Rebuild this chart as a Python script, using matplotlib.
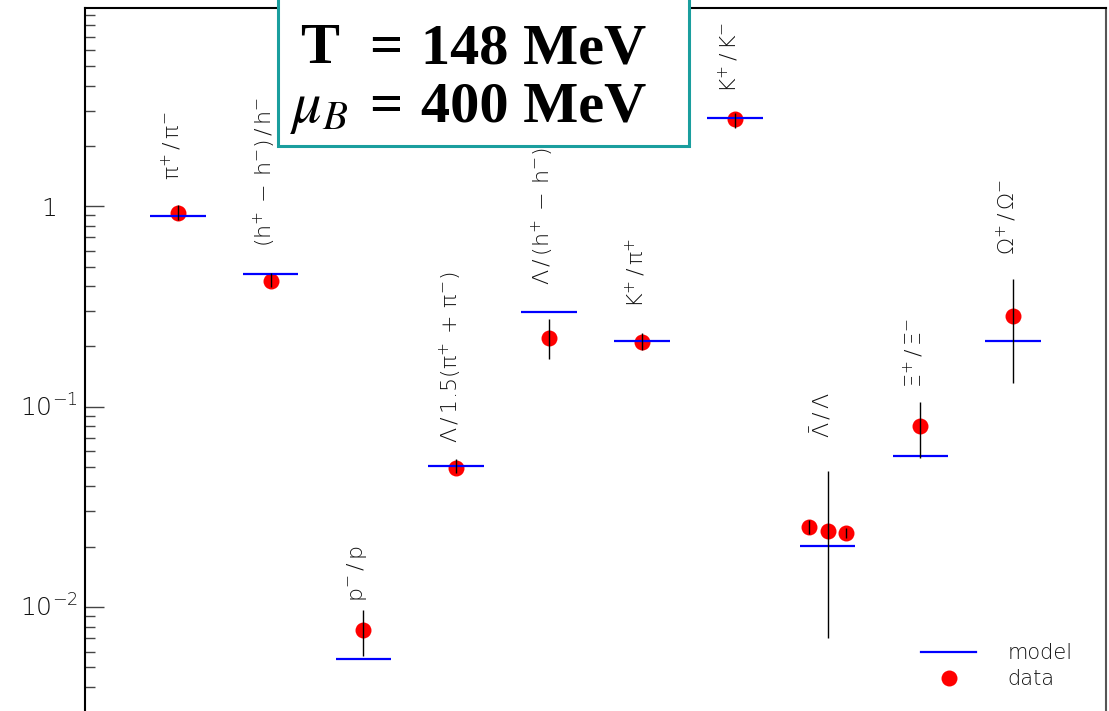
import matplotlib
matplotlib.use('Agg')
import matplotlib.pyplot as plt
from matplotlib.patches import Rectangle
from matplotlib.lines import Line2D
from matplotlib.ticker import LogLocator, NullFormatter, FixedLocator

plt.rcParams['font.family'] = ['DejaVu Sans']
plt.rcParams['font.weight'] = 'light'
plt.rcParams['mathtext.fontset'] = 'custom'
plt.rcParams['mathtext.rm'] = 'DejaVu Sans:light'
plt.rcParams['mathtext.it'] = 'DejaVu Sans:light'
plt.rcParams['mathtext.bf'] = 'DejaVu Sans:light'
plt.rcParams['mathtext.sf'] = 'DejaVu Sans:light'

# ---- data ----
ratio_labels = [r'$\mathrm{\pi}^{+}\,/\,\mathrm{\pi}^{-}$',
                r'$(\mathrm{h}^{+}\,-\,\mathrm{h}^{-})\,/\,\mathrm{h}^{-}$',
                r'$\mathrm{p}^{-}\,/\,\mathrm{p}$',
                r'$\Lambda\,/\,1.5(\mathrm{\pi}^{+}\,+\,\mathrm{\pi}^{-})$',
                r'$\Lambda\,/\,(\mathrm{h}^{+}\,-\,\mathrm{h}^{-})$',
                r'$\mathrm{K}^{+}\,/\,\mathrm{\pi}^{+}$',
                r'$\mathrm{K}^{+}\,/\,\mathrm{K}^{-}$',
                r'$\bar{\Lambda}\,/\,\Lambda$',
                r'$\Xi^{+}\,/\,\Xi^{-}$',
                r'$\Omega^{+}\,/\,\Omega^{-}$']
category_x = [1, 2, 3, 4, 5, 6, 7, 8, 9, 10]
model_values = [0.898, 0.459, 0.00549, 0.0508, 0.298, 0.213, 2.76, 0.0202, 0.0569, 0.213]
data_values = [0.926, 0.426, 0.00769, 0.0493, 0.221, 0.211, 2.72, 0.0241, 0.0804, 0.284]
data_err_hi = [1.01, 0.463, 0.00967, 0.0548, 0.273, 0.233, 2.93, 0.048, 0.105, 0.434]
data_err_lo = [0.85, 0.394, 0.0057, 0.0467, 0.172, 0.192, 2.47, 0.00699, 0.0553, 0.132]
# additional Lambda-bar/Lambda measurements
extra_x = [7.8, 8.2]
extra_values = [0.0252, 0.0234]
extra_err_hi = [0.0272, 0.0247]
extra_err_lo = [0.0231, 0.0220]
# label anchor heights (data units)
label_y = [1.35, 0.626, 0.0106, 0.0659, 0.405, 0.311, 3.68, 0.0698, 0.124, 0.571]

ytick_vals = [0.01, 0.1, 1]
ytick_labels = [r'$10^{-2}$', r'$10^{-1}$', '1']

# ---- figure ----
W, H = 1109, 711
fig = plt.figure(figsize=(W / 100, H / 100), dpi=100)
ax = fig.add_axes([85 / W, 1 - 725 / H, (1106 - 85) / W, (725 - 8) / H])
ax.set_yscale('log')
ax.set_xlim(0, 11)
ax.set_ylim(0.00258, 9.76)

half = 0.3
ax.hlines(model_values, [x - half for x in category_x], [x + half for x in category_x],
          colors='#0000ff', linewidth=1.6, zorder=3)
ax.plot(category_x, data_values, 'o', color='#ff0000', ms=11.5, mec='none', zorder=2)
ax.plot(extra_x, extra_values, 'o', color='#ff0000', ms=11.5, mec='none', zorder=2)
ax.vlines(category_x, data_err_lo, data_err_hi, colors='black', linewidth=1.0, zorder=4)
ax.vlines(extra_x, extra_err_lo, extra_err_hi, colors='black', linewidth=1.0, zorder=4)

for x, y, lab in zip(category_x, label_y, ratio_labels):
    ax.text(x - 0.07, y, lab, rotation=90, ha='center', va='bottom', fontsize=16,
            color='#111111')

ax.yaxis.set_major_locator(FixedLocator(ytick_vals))
ax.yaxis.set_minor_locator(LogLocator(base=10, subs=range(2, 10), numticks=20))
ax.yaxis.set_minor_formatter(NullFormatter())
ax.tick_params(axis='y', which='major', direction='in', length=14, width=1.0,
               color='#444444', labelleft=False)
ax.tick_params(axis='y', which='minor', direction='in', length=7.3, width=1.0,
               color='#444444')
ax.tick_params(axis='x', which='both', bottom=False, top=False, labelbottom=False)
# tick labels centred left of the axis
for v, lab in zip(ytick_vals, ytick_labels):
    ax.annotate(lab, xy=(0, v), xycoords=('axes fraction', 'data'),
                xytext=(-36 * 0.72, -10 * 0.72), textcoords='offset points',
                ha='center', va='baseline', fontsize=18, color='#111111',
                annotation_clip=False)
for s in ['left', 'top', 'right']:
    ax.spines[s].set_linewidth(1.5)
ax.spines['right'].set_color('#555555')
ax.spines['bottom'].set_visible(False)

# legend
handles = [Line2D([], [], color='#0000ff', lw=1.6),
           Line2D([], [], marker='o', ls='none', color='#ff0000', ms=11.5, mec='none')]
leg = ax.legend(handles, ['model', 'data'], loc='upper left',
                bbox_to_anchor=(921 / W, 1 - 643 / H), bbox_transform=fig.transFigure,
                frameon=False, fontsize=15, handlelength=2.65, handletextpad=1.5,
                labelspacing=0.3, borderpad=0, borderaxespad=0)
for t in leg.get_texts():
    t.set_color('#111111')

# parameter box
box = Rectangle((278 / W, 1 - 146 / H), (689 - 278) / W, 0.3, transform=fig.transFigure,
                facecolor='white', edgecolor='#1a9e9e', linewidth=2.2, zorder=10)
fig.add_artist(box)
serif = ['Liberation Serif', 'DejaVu Serif']
fig.text(300 / W, 1 - 63 / H, 'T', fontsize=42, fontweight='bold', family=serif,
         ha='left', va='baseline', zorder=11)
fig.text(386 / W, 1 - 63 / H, '=', fontsize=42, fontweight='bold', family=serif,
         ha='center', va='baseline', zorder=11)
fig.text(421 / W, 1 - 63 / H, '148 MeV', fontsize=42, fontweight='bold', family=serif,
         ha='left', va='baseline', zorder=11)
fig.text(290 / W, 1 - 122 / H, r'$\mu_B$', fontsize=42, math_fontfamily='stix',
         ha='left', va='baseline', zorder=11)
fig.text(386 / W, 1 - 122 / H, '=', fontsize=42, fontweight='bold', family=serif,
         ha='center', va='baseline', zorder=11)
fig.text(421 / W, 1 - 122 / H, '400 MeV', fontsize=42, fontweight='bold', family=serif,
         ha='left', va='baseline', zorder=11)

fig.savefig('out.png', dpi=100)
